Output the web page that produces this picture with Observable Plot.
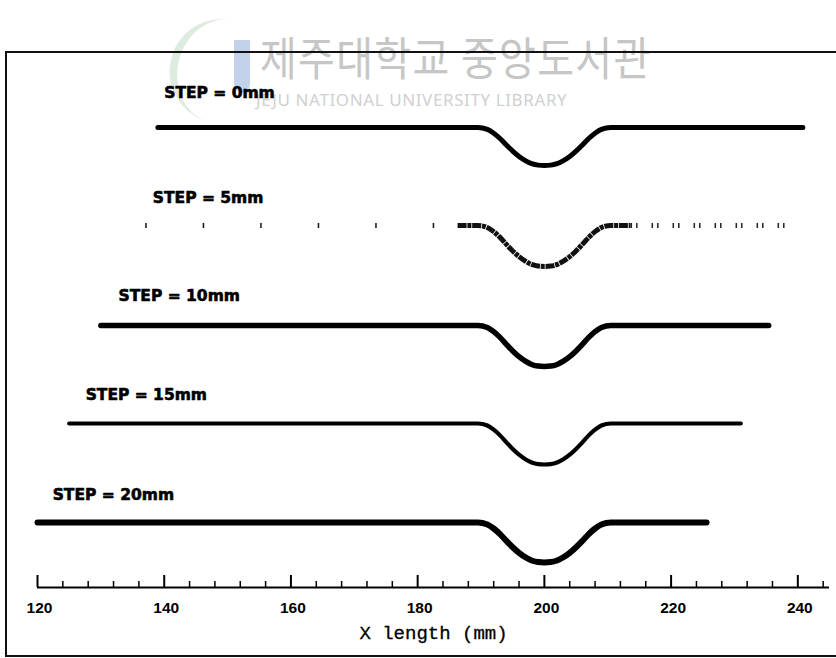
<!DOCTYPE html>
<html>
<head>
<meta charset="utf-8">
<script src="https://cdn.jsdelivr.net/npm/d3@7"></script>
<script src="https://cdn.jsdelivr.net/npm/@observablehq/plot@0.6"></script>
<style>
  html, body { margin: 0; padding: 0; background: #fff; }
  #page { position: relative; width: 836px; height: 658px; overflow: hidden; background: #fff; }
  #mark-logo-arc { position: absolute; left: 170px; top: 16px; width: 70px; height: 104px;
    border-left: 8px solid #d3e6d6; border-radius: 60px 0 0 60px; transform: rotate(14deg); opacity: 0.75; }
  #mark-logo-bar { position: absolute; left: 234px; top: 40px; width: 16px; height: 52px;
    background: #c2d2ea; border-radius: 0 0 8px 8px; }
  #wm-ko { position: absolute; left: 260px; top: 32px; font-family: "Noto Sans CJK KR", sans-serif;
    font-size: 46px; line-height: 46px; color: #c6c6c6; letter-spacing: 1.5px; transform: scaleX(0.87); transform-origin: left top; white-space: nowrap; }
  #wm-en { position: absolute; left: 256px; top: 91px; font-family: "Noto Sans", sans-serif;
    font-size: 17px; line-height: 18px; color: #d0d0d0; letter-spacing: 0.6px; white-space: nowrap; }
  #chart { position: absolute; left: 0; top: 0; }
  #box { position: absolute; left: 5px; top: 51px; width: 850px; height: 602px;
    border-top: 2px solid #111; border-left: 2px solid #111; border-bottom: 2px solid #111; pointer-events: none; }
</style>
</head>
<body>
<div id="page">
  <div id="mark-logo-arc"></div>
  <div id="mark-logo-bar"></div>
  <div id="wm-ko">제주대학교 중앙도서관</div>
  <div id="wm-en">JEJU NATIONAL UNIVERSITY LIBRARY</div>
  <div id="chart"></div>
  <div id="box"></div>
</div>
<script>
// Step cases and their labels
const steps = [0, 5, 10, 15, 20];
const stepLabels = ["STEP = 0mm", "STEP = 5mm", "STEP = 10mm", "STEP = 15mm", "STEP = 20mm"];

// Extent of each measured profile along X (mm)
const startX = [139, 137, 130, 125, 120];
const endX = [240.8, 238.3, 235.4, 231, 225.6];

// Vertical level of each profile (stacked offsets) and depth of its groove
const baseLevel = [0, -9.8, -19.8, -29.6, -39.5];
const grooveDepth = [3.8, 4.1, 4.1, 4.1, 4.0];

// Groove profile around X = 200 mm: offset (mm) and relative depth
const grooveCenter = 200;
const grooveOffset = [-10.5, -9, -8, -7, -6, -5, -4, -3, -2, -1, 0, 1, 2, 3, 4, 5, 6, 7, 8, 9, 10.5];
const grooveShape = [0, 0.05, 0.15, 0.29, 0.46, 0.62, 0.76, 0.87, 0.95, 0.99, 1, 0.99, 0.95, 0.87, 0.76, 0.62, 0.46, 0.29, 0.15, 0.05, 0];

// STEP = 5mm trace is only densely recorded between these X values (mm)
const denseFrom = 186.3;
const denseTo = 213.6;

// Where each label sits (X in mm, lift above its profile)
const labelX = [140, 138.2, 132.8, 127.6, 122.4];
const labelLift = [3.4, 2.7, 2.9, 2.8, 2.7];

// Axis ticks (mm)
const majorTicks = [120, 140, 160, 180, 200, 220, 240];
const minorTicks = [124, 128, 132, 136, 144, 148, 152, 156, 164, 168, 172, 176, 184, 188, 192, 196,
                    204, 208, 212, 216, 224, 228, 232, 236, 244];
const axisTitle = "X length (mm)";

const lineWidth = [5, 4, 5.5, 4.2, 6];

// Assemble profile rows per step
const rows = steps.flatMap((s, i) => {
  const pts = [{step: s, x: startX[i], y: baseLevel[i]}];
  if (s === 5) pts.push({step: s, x: denseFrom, y: baseLevel[i]});
  grooveOffset.forEach((o, k) => pts.push({step: s, x: grooveCenter + o, y: baseLevel[i] - grooveDepth[i] * grooveShape[k]}));
  if (s === 5) pts.push({step: s, x: denseTo, y: baseLevel[i]});
  pts.push({step: s, x: endX[i], y: baseLevel[i]});
  return pts;
});

const yAxis = -46;
const solidSteps = steps.filter(s => s !== 5);
const sparse = rows.filter(d => d.step === 5);

const marks = [];
// Solid profiles
solidSteps.forEach(s => {
  const i = steps.indexOf(s);
  marks.push(Plot.line(rows.filter(d => d.step === s), {
    x: "x", y: "y", curve: "monotone-x", stroke: "#000", strokeWidth: lineWidth[i]
  }));
});
// STEP = 5mm: sparse ticks on the flats, dense dashes through the groove
marks.push(Plot.line(sparse.filter(d => d.x <= denseFrom), {
  x: "x", y: "y", stroke: "#111", strokeWidth: 5, strokeDasharray: "1.5,56", strokeLinecap: "butt"
}));
marks.push(Plot.line(sparse.filter(d => d.x >= denseFrom && d.x <= denseTo), {
  x: "x", y: "y", curve: "monotone-x", stroke: "#111", strokeWidth: 5, strokeDasharray: "9,0.8,4,0.8", strokeLinecap: "butt"
}));
marks.push(Plot.line(sparse.filter(d => d.x >= denseTo), {
  x: "x", y: "y", stroke: "#222", strokeWidth: 5, strokeDasharray: "1.5,4,1.5,14", strokeLinecap: "butt"
}));

// Step labels
marks.push(Plot.text(steps, {
  x: (d, i) => labelX[i], y: (d, i) => baseLevel[i] + labelLift[i], text: (d, i) => stepLabels[i],
  textAnchor: "start", fontFamily: "DejaVu Sans", fontWeight: "bold", fontSize: 15.5,
  fill: "#000", stroke: "#000", strokeWidth: 0.6
}));

// X axis: line, major and minor ticks pointing upward, labels and title
marks.push(Plot.ruleY([yAxis], {x1: 120, x2: 245, stroke: "#000", strokeWidth: 2}));
marks.push(Plot.ruleX(majorTicks, {x: d => d, y1: yAxis, y2: yAxis + 1.2, stroke: "#000", strokeWidth: 2}));
marks.push(Plot.ruleX(minorTicks, {x: d => d, y1: yAxis, y2: yAxis + 0.6, stroke: "#000", strokeWidth: 1.5}));
marks.push(Plot.text(majorTicks, {
  x: d => d, y: yAxis, dy: 21, dx: 2, text: d => String(d),
  fontFamily: "Liberation Sans", fontWeight: "bold", fontSize: 15.5, fill: "#000"
}));
marks.push(Plot.text([axisTitle], {
  frameAnchor: "bottom", dy: 51, text: d => d,
  fontFamily: "Liberation Mono", fontSize: 19, fill: "#000", stroke: "#000", strokeWidth: 0.3
}));

const chart = Plot.plot({
  width: 836,
  height: 658,
  marginLeft: 37,
  marginRight: 7,
  marginTop: 48,
  marginBottom: 71,
  style: {background: "transparent", overflow: "visible"},
  x: {domain: [120, 245], axis: null},
  y: {domain: [yAxis, 7.9], axis: null},
  marks
});
document.getElementById("chart").append(chart);
</script>
</body>
</html>
